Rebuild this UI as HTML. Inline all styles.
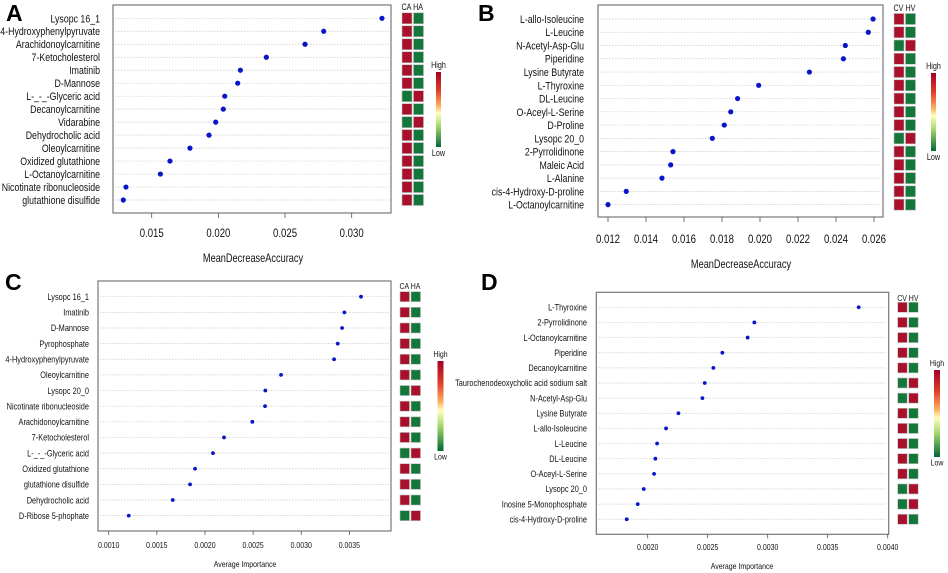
<!DOCTYPE html>
<html><head><meta charset="utf-8"><style>
html,body{margin:0;padding:0;background:#fff;}
svg{display:block;font-family:"Liberation Sans",sans-serif;}
</style></head><body>
<svg id="fig" width="948" height="573" viewBox="0 0 948 573" xmlns="http://www.w3.org/2000/svg">
<defs>
<linearGradient id="cb" x1="0" y1="0" x2="0" y2="1">
<stop offset="0" stop-color="#a50026"/><stop offset="0.25" stop-color="#e0402a"/><stop offset="0.45" stop-color="#fdae61"/><stop offset="0.55" stop-color="#ffffbf"/><stop offset="0.72" stop-color="#a6d96a"/><stop offset="1" stop-color="#006837"/>
</linearGradient>
</defs>
<text x="6" y="21" font-size="23" font-weight="bold">A</text>
<text x="478" y="21" font-size="23" font-weight="bold">B</text>
<text x="5" y="290" font-size="23" font-weight="bold">C</text>
<text x="481" y="290" font-size="23" font-weight="bold">D</text>
</svg>
<script>
// Panel A data
const aLabels=["Lysopc 16_1","4-Hydroxyphenylpyruvate","Arachidonoylcarnitine","7-Ketocholesterol","Imatinib","D-Mannose","L-_-_-Glyceric acid","Decanoylcarnitine","Vidarabine","Dehydrocholic acid","Oleoylcarnitine","Oxidized glutathione","L-Octanoylcarnitine","Nicotinate ribonucleoside","glutathione disulfide"];
const aValues=[0.03227,0.0279,0.0265,0.0236,0.02165,0.02145,0.02048,0.02037,0.0198,0.0193,0.01787,0.01637,0.01565,0.01307,0.01287];
const aFlip=[0,0,0,0,0,0,1,0,1,0,0,0,0,0,0];
const aTicks=[0.015,0.020,0.025,0.030];
// Panel B data
const bLabels=["L-allo-Isoleucine","L-Leucine","N-Acetyl-Asp-Glu","Piperidine","Lysine Butyrate","L-Thyroxine","DL-Leucine","O-Aceyl-L-Serine","D-Proline","Lysopc 20_0","2-Pyrrolidinone","Maleic Acid","L-Alanine","cis-4-Hydroxy-D-proline","L-Octanoylcarnitine"];
const bValues=[0.02595,0.0257,0.02449,0.02439,0.0226,0.01993,0.01882,0.01846,0.01812,0.01749,0.01542,0.0153,0.01484,0.01296,0.0120];
const bFlip=[0,0,1,0,0,0,0,0,0,1,0,0,0,0,0];
const bTicks=[0.012,0.014,0.016,0.018,0.020,0.022,0.024,0.026];
// Panel C data
const cLabels=["Lysopc 16_1","Imatinib","D-Mannose","Pyrophosphate","4-Hydroxyphenylpyruvate","Oleoylcarnitine","Lysopc 20_0","Nicotinate ribonucleoside","Arachidonoylcarnitine","7-Ketocholesterol","L-_-_-Glyceric acid","Oxidized glutathione","glutathione disulfide","Dehydrocholic acid","D-Ribose 5-phophate"];
const cValues=[0.003621,0.003448,0.003424,0.003379,0.003341,0.00279,0.002627,0.002624,0.002492,0.002198,0.002083,0.001897,0.001845,0.001665,0.001208];
const cFlip=[0,0,0,0,0,0,1,0,0,0,1,0,0,0,1];
const cTicks=[0.0010,0.0015,0.0020,0.0025,0.0030,0.0035];
// Panel D data
const dLabels=["L-Thyroxine","2-Pyrrolidinone","L-Octanoylcarnitine","Piperidine","Decanoylcarnitine","Taurochenodeoxycholic acid sodium salt","N-Acetyl-Asp-Glu","Lysine Butyrate","L-allo-Isoleucine","L-Leucine","DL-Leucine","O-Aceyl-L-Serine","Lysopc 20_0","Inosine 5-Monophosphate","cis-4-Hydroxy-D-proline"];
const dValues=[0.003758,0.002889,0.002833,0.002622,0.002547,0.002475,0.002456,0.002256,0.002153,0.002078,0.002064,0.002053,0.001967,0.001917,0.001825];
const dFlip=[0,0,0,0,0,1,1,0,0,0,0,0,1,1,0];
const dTicks=[0.0020,0.0025,0.0030,0.0035,0.0040];

const NS="http://www.w3.org/2000/svg";
const svg=document.getElementById('fig');
function mk(tag,attrs,parent,txt){const e=document.createElementNS(NS,tag);for(const k in attrs)e.setAttribute(k,attrs[k]);if(txt!==undefined)e.textContent=txt;(parent||svg).appendChild(e);return e;}
function ctext(x,y,size,anchor,sx,parent,str){
  return mk('text',{x:0,y:0,transform:'translate('+x+','+y+') scale('+sx+',1)','font-size':size,'text-anchor':anchor,fill:'#111'},parent,str);
}
const RED="#a8102c",GREEN="#13773a";

function panel(id,cfg,labels,values,flip,ticks){
  const g=mk('g',{});
  
  
  const xs=v=>cfg.x0px+(v-cfg.v0)*cfg.ppu;
  const ys=i=>cfg.row0+i*cfg.rowStep;
  labels.forEach((lab,i)=>{
    const gl=mk('line',{x1:cfg.box[0]+2,x2:cfg.box[2]-2,y1:ys(i),y2:ys(i),stroke:'#c8c8c8','stroke-width':0.7,'stroke-dasharray':'1.5,1.5'},g);
    
    
    const t=ctext(cfg.labelX,ys(i)+cfg.lf*0.36,cfg.lf,'end',cfg.sx,g,lab);
    
    
    const d=mk('circle',{cx:xs(values[i]),cy:ys(i),r:cfg.r,fill:'#0a14c8'},g);
    
    
    const c1=mk('rect',{x:cfg.hx,y:ys(i)-cfg.ch/2,width:cfg.cw,height:cfg.ch,fill:flip[i]?GREEN:RED,stroke:'#bbb','stroke-width':0.6},g);
    
    
    const c2=mk('rect',{x:cfg.hx+cfg.cw+1.5,y:ys(i)-cfg.ch/2,width:cfg.cw,height:cfg.ch,fill:flip[i]?RED:GREEN,stroke:'#bbb','stroke-width':0.6},g);
    
    
  });
  const b=mk('rect',{x:cfg.box[0],y:cfg.box[1],width:cfg.box[2]-cfg.box[0],height:cfg.box[3]-cfg.box[1],fill:'none',stroke:'#777','stroke-width':1.2},g);
  
  
  ticks.forEach(tv=>{
    const tl=mk('line',{x1:xs(tv),x2:xs(tv),y1:cfg.box[3],y2:cfg.box[3]+cfg.tickLen,stroke:'#555','stroke-width':0.8},g);
    
    
    const tt=ctext(xs(tv),cfg.tickY,cfg.tf,'middle',cfg.sx,g,tv.toFixed(cfg.dec));
    
    
  });
  const ti=ctext(cfg.titleX,cfg.titleY,cfg.titleF,'middle',cfg.sx,g,cfg.title);
  
  
  const hd=ctext(cfg.hx-0.5,cfg.headY,cfg.hf,'start',cfg.sx,g,cfg.groups);
  
  
  const cb=mk('rect',{x:cfg.cb[0],y:cfg.cb[1],width:cfg.cb[2],height:cfg.cb[3],fill:'url(#cb)'},g);
  
  
  const hi=ctext(cfg.cb[0]+cfg.cb[2]/2,cfg.cb[1]-4,cfg.hf,'middle',cfg.sx,g,'High');
  
  
  const lo=ctext(cfg.cb[0]+cfg.cb[2]/2,cfg.cb[1]+cfg.cb[3]+cfg.hf,cfg.hf,'middle',cfg.sx,g,'Low');
  
  
}

panel('a',{box:[113,5,391,213],x0px:151.7,v0:0.015,ppu:13333,row0:18.3,rowStep:12.98,labelX:100,lf:11,sx:0.8,r:2.6,
  hx:402,cw:10,ch:11,tickLen:5,tickY:237,tf:12,dec:3,title:'MeanDecreaseAccuracy',titleX:253,titleY:262,titleF:11.5,
  groups:'CA HA',headY:10,hf:9,cb:[436,72,5,75]},aLabels,aValues,aFlip,aTicks);
panel('b',{box:[598,5,883,217],x0px:608,v0:0.012,ppu:19000,row0:19,rowStep:13.26,labelX:584,lf:11,sx:0.8,r:2.6,
  hx:894,cw:10,ch:11,tickLen:5,tickY:243,tf:12,dec:3,title:'MeanDecreaseAccuracy',titleX:741,titleY:268,titleF:11.5,
  groups:'CV HV',headY:11,hf:9,cb:[931,73,5,78]},bLabels,bValues,bFlip,bTicks);
panel('c',{box:[98,281,391,531],x0px:108.7,v0:0.001,ppu:96270,row0:296.7,rowStep:15.64,labelX:89,lf:9,sx:0.82,r:1.9,
  hx:400,cw:9.5,ch:10,tickLen:4,tickY:548,tf:8.5,dec:4,title:'Average Importance',titleX:245,titleY:567,titleF:8.5,
  groups:'CA HA',headY:289,hf:8.5,cb:[437.5,361,6,90]},cLabels,cValues,cFlip,cTicks);
panel('d',{box:[596.3,292.3,888.7,534.3],x0px:647.7,v0:0.002,ppu:120000,row0:307.3,rowStep:15.14,labelX:587,lf:9,sx:0.82,r:1.9,
  hx:897.7,cw:9.5,ch:10,tickLen:4,tickY:550,tf:8.5,dec:4,title:'Average Importance',titleX:742,titleY:569,titleF:8.5,
  groups:'CV HV',headY:301,hf:8.5,cb:[934,370,6,87]},dLabels,dValues,dFlip,dTicks);
</script>
</body></html>
